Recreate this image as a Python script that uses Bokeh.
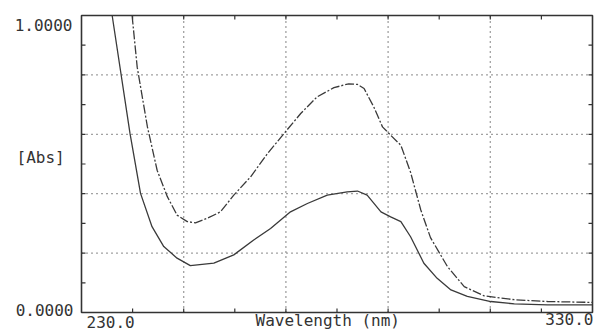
from bokeh.plotting import figure
from bokeh.models import Label, Range1d
from bokeh.embed import file_html
from bokeh.resources import INLINE

# Lower spectrum (solid)
wl_lower = [236.0, 239.5, 241.55, 243.8, 246.1, 248.7, 251.3, 255.9, 259.8, 263.7,
            267.0, 270.9, 274.2, 278.1, 282.0, 284.0, 285.9, 288.6, 290.5, 292.5,
            294.4, 297.0, 299.6, 302.3, 305.5, 310.1, 314.7, 321.2, 330.0]
abs_lower = [1.0, 0.602, 0.401, 0.289, 0.222, 0.183, 0.158, 0.166, 0.194, 0.244,
             0.283, 0.339, 0.367, 0.395, 0.406, 0.409, 0.395, 0.339, 0.322, 0.306,
             0.255, 0.166, 0.115, 0.076, 0.054, 0.037, 0.029, 0.026, 0.026]

# Upper spectrum (dash-dot)
wl_upper = [239.9, 240.9, 242.9, 244.8, 246.8, 248.7, 250.7, 252.3, 254.6, 257.2,
            259.8, 263.1, 266.4, 269.6, 272.9, 276.1, 279.4, 282.3, 284.0, 285.3,
            287.2, 288.9, 290.5, 292.5, 294.4, 296.4, 298.3, 301.6, 304.9, 308.8,
            314.7, 321.2, 330.0]
abs_upper = [1.0, 0.826, 0.625, 0.479, 0.390, 0.328, 0.306, 0.302, 0.317, 0.339,
             0.395, 0.457, 0.535, 0.602, 0.670, 0.726, 0.757, 0.770, 0.768, 0.754,
             0.692, 0.625, 0.597, 0.563, 0.472, 0.345, 0.252, 0.155, 0.087, 0.056,
             0.043, 0.037, 0.034]

x_start, x_end = 230.0, 330.0
y_start, y_end = 0.0, 1.0
x_grid = [250, 270, 290, 310]
y_grid = [0.2, 0.4, 0.6, 0.8]
x_ticks = [240, 250, 260, 270, 280, 290, 300, 310, 320]
y_ticks = [0.1, 0.2, 0.3, 0.4, 0.5, 0.6, 0.7, 0.8, 0.9]
y_label_top, y_label_bottom = "1.0000", "0.0000"
x_label_left, x_label_right = "230.0", "330.0"
y_title, x_title = "[Abs]", "Wavelength (nm)"

# Layout (pixels): the plotting box inside the canvas
W, H = 597, 330
BOX_L, BOX_R, BOX_T, BOX_B = 81, 592, 15, 312
px = (x_end - x_start) / (BOX_R - BOX_L)   # data units per pixel (x)
py = (y_end - y_start) / (BOX_B - BOX_T)   # data units per pixel (y)

INK = "#333333"
LINE = "#3a3a3a"
FONT = "DejaVu Sans Mono"

p = figure(width=W, height=H,
           x_range=Range1d(x_start - BOX_L * px, x_end + (W - BOX_R) * px),
           y_range=Range1d(y_start - (H - BOX_B) * py, y_end + BOX_T * py),
           x_axis_location=None, y_axis_location=None,
           output_backend="svg", toolbar_location=None,
           min_border=0)
p.grid.visible = False
p.outline_line_color = None
p.background_fill_color = "white"
p.border_fill_color = "white"

# dotted grid inside the box
p.segment(x0=x_grid, y0=[y_start] * len(x_grid), x1=x_grid, y1=[y_end] * len(x_grid),
          line_color="#444444", line_width=1.3, line_dash="1 4")
p.segment(x0=[x_start] * len(y_grid), y0=y_grid, x1=[x_end] * len(y_grid), y1=y_grid,
          line_color="#444444", line_width=1.3, line_dash="1 4")

# inward ticks on all four sides
TL = 4
nx, ny = len(x_ticks), len(y_ticks)
p.segment(x0=x_ticks, y0=[y_start] * nx, x1=x_ticks, y1=[y_start + TL * py] * nx,
          line_color=INK, line_width=1.2)
p.segment(x0=x_ticks, y0=[y_end] * nx, x1=x_ticks, y1=[y_end - TL * py] * nx,
          line_color=INK, line_width=1.2)
p.segment(x0=[x_start] * ny, y0=y_ticks, x1=[x_start + TL * px] * ny, y1=y_ticks,
          line_color=INK, line_width=1.2)
p.segment(x0=[x_end] * ny, y0=y_ticks, x1=[x_end - TL * px] * ny, y1=y_ticks,
          line_color=INK, line_width=1.2)

# box
p.quad(left=x_start, right=x_end, bottom=y_start, top=y_end,
       fill_color=None, line_color=INK, line_width=1.6)

# spectra
p.line(wl_lower, abs_lower, line_color=LINE, line_width=1.3)
p.line(wl_upper, abs_upper, line_color=LINE, line_width=1.3, line_dash="9 2 2 2")


def lab(text, page_x, page_y, align, size="16px"):
    p.add_layout(Label(x=x_start + (page_x - BOX_L) * px,
                       y=y_start + (BOX_B - page_y) * py,
                       text=text, text_font=FONT, text_font_size=size,
                       text_color=INK, text_align=align,
                       text_baseline="alphabetic"))


lab(y_label_top, 72, 24, "right")
lab(y_label_bottom, 73, 309, "right")
lab(y_title, 16, 157, "left")
lab(x_label_left, 86, 321, "left")
lab(x_label_right, 593, 318, "right")
lab(x_title, 255, 320, "left")

open("out.html", "w").write(file_html(p, INLINE))
